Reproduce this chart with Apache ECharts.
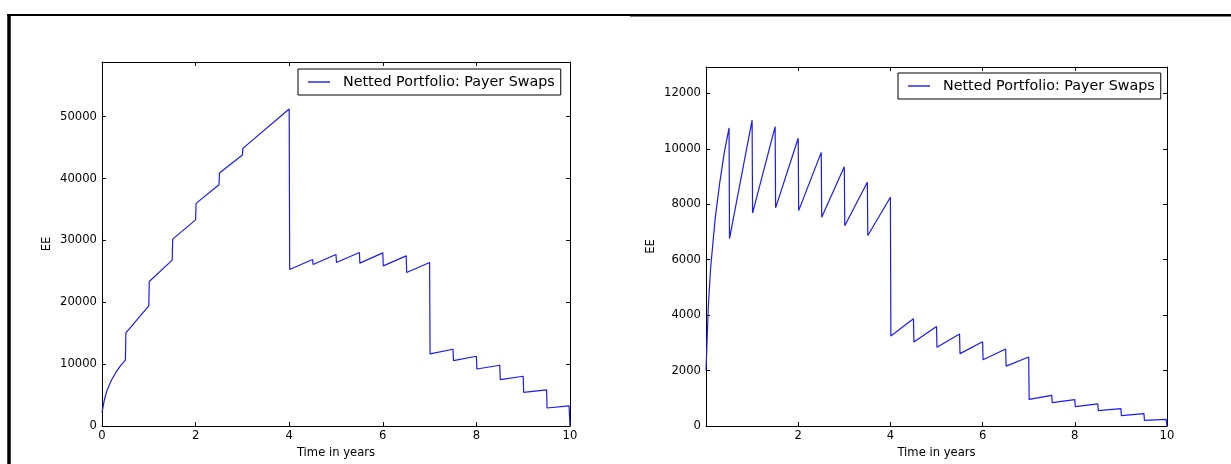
<!DOCTYPE html>
<html>
<head>
<meta charset="utf-8">
<script src="https://cdn.jsdelivr.net/npm/echarts@6/dist/echarts.min.js"></script>
<style>
html,body{margin:0;padding:0;background:#fff;}
#chart{width:1231px;height:464px;}
</style>
</head>
<body>
<div id="chart"></div>
<script>
// ---- data ----
const seriesName = 'Netted Portfolio: Payer Swaps';
const xTickLabels = [0, 2, 4, 6, 8, 10];
const leftYTicks = [0, 10000, 20000, 30000, 40000, 50000];
const rightYTicks = [0, 2000, 4000, 6000, 8000, 10000, 12000];

const leftTimes = [0, 0.05, 0.1, 0.2, 0.3, 0.4, 0.5, 0.51, 1.0, 1.01, 1.5, 1.51, 2.0, 2.01, 2.5, 2.51,
  3.0, 3.01, 4.0, 4.01, 4.5, 4.51, 5.0, 5.01, 5.5, 5.51, 6.0, 6.01, 6.5, 6.51, 7.0, 7.01,
  7.5, 7.51, 8.0, 8.01, 8.5, 8.51, 9.0, 9.01, 9.5, 9.51, 9.98, 10.0];
const leftEE = [2200, 4200, 5600, 7400, 8700, 9800, 10650, 15050, 19420, 23360, 26810, 30210, 33330, 35990, 39000, 40890,
  43800, 44880, 51250, 25300, 26930, 26120, 27730, 26440, 28060, 26330, 27990, 25890, 27510, 24820, 26440, 11650,
  12410, 10580, 11280, 9220, 9820, 7500, 8040, 5450, 5830, 2910, 3240, 0];

const rightTimes = [0, 0.05, 0.1, 0.2, 0.3, 0.4, 0.5, 0.51, 1.0, 1.01, 1.5, 1.51, 2.0, 2.01, 2.5, 2.51,
  3.0, 3.01, 3.5, 3.51, 4.0, 4.01, 4.5, 4.51, 5.0, 5.01, 5.5, 5.51, 6.0, 6.01, 6.5, 6.51, 7.0, 7.01,
  7.5, 7.51, 8.0, 8.01, 8.5, 8.51, 9.0, 9.01, 9.5, 9.51, 9.98, 10.0];
const rightEE = [2000, 4300, 5700, 7500, 8800, 9900, 10750, 6760, 11030, 7680, 10800, 7870, 10380, 7770, 9870, 7530,
  9350, 7220, 8790, 6870, 8250, 3250, 3870, 3030, 3590, 2840, 3315, 2610, 3040, 2390, 2775, 2160, 2490, 960,
  1105, 845, 950, 700, 795, 555, 627, 375, 447, 205, 241, 0];

const leftYMax = 58850;
const rightYMax = 12950;

// ---- build chart ----
const FONT = 'DejaVu Sans';
const AX = '#000';
const LINE = '#1a1aff';
const zip = (a, b) => a.map((t, i) => [t, b[i]]);

function xAx(grid, pos, showLabels, hideZero) {
  return {
    gridIndex: grid, type: 'value', position: pos, min: 0, max: 10, interval: 2,
    axisLine: { show: true, onZero: false, lineStyle: { color: AX, width: 1 } },
    axisTick: { show: true, inside: true, length: 4, lineStyle: { color: AX } },
    splitLine: { show: false },
    axisLabel: {
      show: showLabels, margin: 4, color: '#000', fontFamily: FONT, fontSize: 11.6,
      formatter: v => (xTickLabels.includes(v) && !(hideZero && v === 0)) ? String(v) : ''
    },
    name: showLabels ? 'Time in years' : '', nameLocation: 'middle', nameGap: 21,
    nameTextStyle: { color: '#000', fontFamily: FONT, fontSize: 11.6 }
  };
}
function yAx(grid, pos, showLabels, max, interval, ticks) {
  return {
    gridIndex: grid, type: 'value', position: pos, min: 0, max: max, interval: interval,
    axisLine: { show: true, onZero: false, lineStyle: { color: AX, width: 1 } },
    axisTick: { show: true, inside: true, length: 4, lineStyle: { color: AX } },
    splitLine: { show: false },
    axisLabel: {
      show: showLabels, margin: 5, color: '#000', fontFamily: FONT, fontSize: 11.6,
      showMaxLabel: false,
      formatter: v => ticks.includes(v) ? String(v) : ''
    },
    name: showLabels ? 'EE' : '', nameLocation: 'middle', nameGap: 49,
    nameTextStyle: { color: '#000', fontFamily: FONT, fontSize: 11.6 }
  };
}
function legendFor(left, top) {
  return {
    left: left, top: top, orient: 'horizontal', data: [seriesName],
    icon: 'rect', itemWidth: 22, itemHeight: 1.4,
    borderColor: '#000', borderWidth: 1, borderRadius: 0, padding: [6, 6, 6, 10],
    selectedMode: false,
    textStyle: { color: '#000', fontFamily: FONT, fontSize: 14.3, padding: [0, 0, 0, 8] }
  };
}

const chart = echarts.init(document.getElementById('chart'), null, { renderer: 'canvas' });
chart.setOption({
  animation: false,
  backgroundColor: '#fff',
  textStyle: { fontFamily: FONT },
  grid: [
    { left: 102, top: 62, width: 468, height: 364 },
    { left: 706, top: 67, width: 461, height: 360 }
  ],
  xAxis: [xAx(0, 'bottom', true, false), xAx(0, 'top', false, false),
          xAx(1, 'bottom', true, true), xAx(1, 'top', false, true)],
  yAxis: [yAx(0, 'left', true, leftYMax, 10000, leftYTicks), yAx(0, 'right', false, leftYMax, 10000, leftYTicks),
          yAx(1, 'left', true, rightYMax, 2000, rightYTicks), yAx(1, 'right', false, rightYMax, 2000, rightYTicks)],
  legend: [legendFor(298, 69), legendFor(898, 73)],
  series: [
    { name: seriesName, type: 'line', xAxisIndex: 0, yAxisIndex: 0, data: zip(leftTimes, leftEE),
      symbol: 'none', lineStyle: { color: LINE, width: 1.2 }, itemStyle: { color: LINE } },
    { name: seriesName, type: 'line', xAxisIndex: 2, yAxisIndex: 2, data: zip(rightTimes, rightEE),
      symbol: 'none', lineStyle: { color: LINE, width: 1.2 }, itemStyle: { color: LINE } }
  ],
  graphic: [
    { type: 'line', shape: { x1: 9, y1: 14, x2: 9, y2: 464 }, style: { stroke: '#000', lineWidth: 3.5 } },
    { type: 'line', shape: { x1: 7, y1: 15, x2: 631, y2: 15 }, style: { stroke: '#000', lineWidth: 2 } },
    { type: 'line', shape: { x1: 630, y1: 15.3, x2: 1231, y2: 15.3 }, style: { stroke: '#000', lineWidth: 2.6 } }
  ]
});
</script>
</body>
</html>
